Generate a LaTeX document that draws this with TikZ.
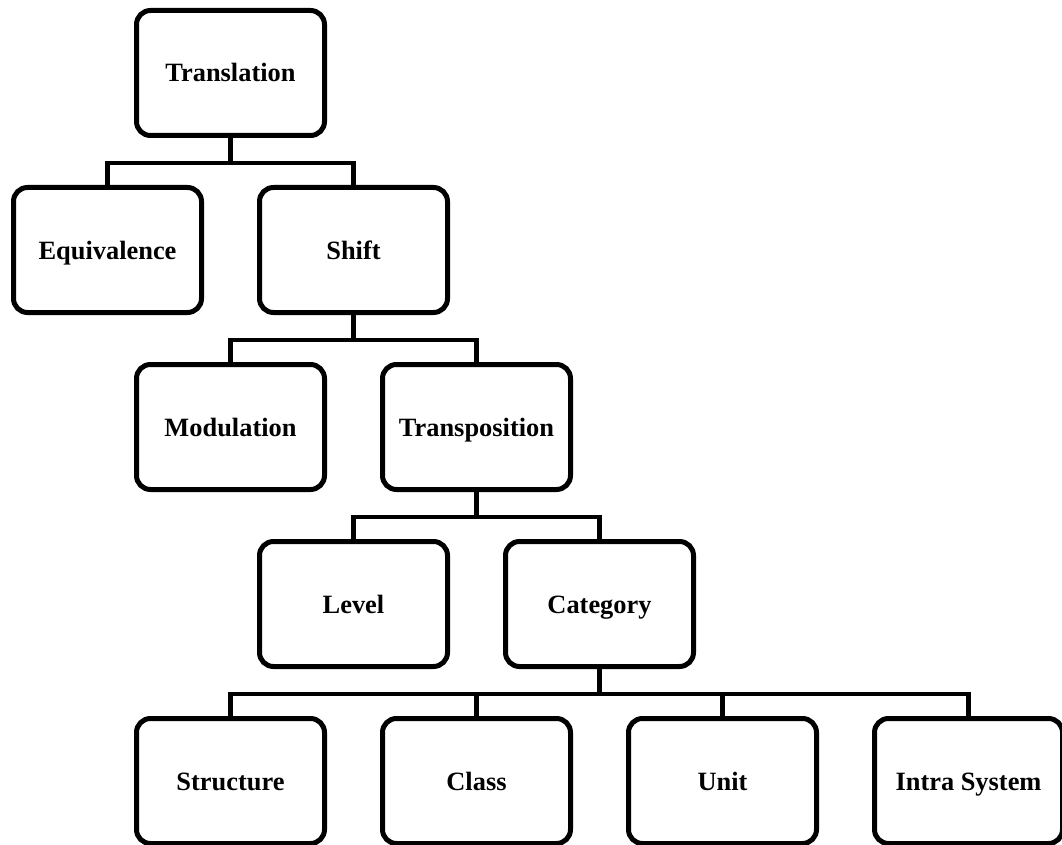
\documentclass[tikz,border=0pt]{standalone}
\usepackage{fontspec}
\setmainfont{Liberation Serif}
\usepackage{tikz}
\usetikzlibrary{positioning}

\begin{document}
\begin{tikzpicture}[
    x=1pt, y=1pt,
    box/.style={draw, line width=5pt, rounded corners=14pt, fill=white,
        minimum width=188pt, minimum height=125pt, inner sep=0pt,
        text height=18pt, text depth=0pt,
        font=\fontsize{26.4}{30}\selectfont\bfseries},
    link/.style={line width=4.5pt}
]
\useasboundingbox (0,0) rectangle (1062,-845);

% Boxes placed on a grid (columns 123pt apart, rows 177pt apart)
\node[box] (trans) at (230.5,-73) {Translation};
\node[box] (equiv) at (107.5,-250) {Equivalence};
\node[box] (shift) at (353.5,-250) {Shift};
\node[box] (modul) at (230.5,-427) {Modulation};
\node[box] (transp) at (476.5,-427) {Transposition};
\node[box] (level) at (353.5,-604) {Level};
\node[box] (categ) at (599.5,-604) {Category};
\node[box] (struct) at (230.5,-781) {Structure};
\node[box] (class) at (476.5,-781) {Class};
\node[box] (unit) at (722.5,-781) {Unit};
\node[box] (intra) at (968.5,-781) {Intra System};

% Tree connectors
\draw[link] (trans.south) -- ++(0,-25) coordinate (b1);
\draw[link] (equiv.north) |- (b1) -| (shift.north);

\draw[link] (shift.south) -- ++(0,-25) coordinate (b2);
\draw[link] (modul.north) |- (b2) -| (transp.north);

\draw[link] (transp.south) -- ++(0,-25) coordinate (b3);
\draw[link] (level.north) |- (b3) -| (categ.north);

\draw[link] (categ.south) -- ++(0,-25) coordinate (b4);
\draw[link] (struct.north) |- (b4) -| (intra.north);
\draw[link] (class.north) -- (class.north |- b4);
\draw[link] (unit.north) -- (unit.north |- b4);
\end{tikzpicture}
\end{document}
